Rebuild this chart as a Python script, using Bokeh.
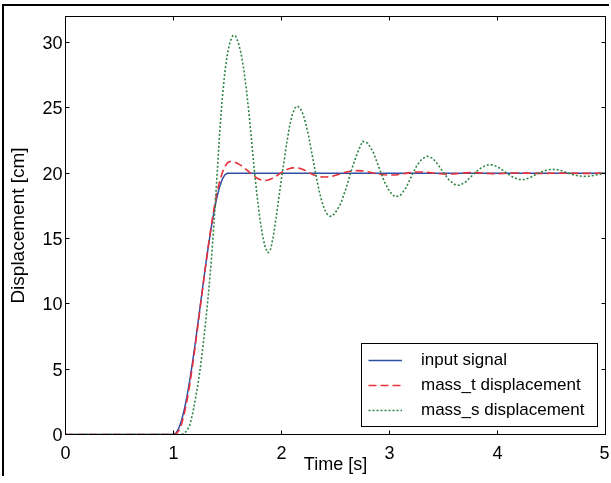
from bokeh.plotting import figure
from bokeh.models import LinearAxis, Range1d, FixedTicker, Legend, LegendItem
from bokeh.embed import file_html
from bokeh.resources import INLINE

# ---- data ----
x_ticks = [0, 1, 2, 3, 4, 5]
y_ticks = [0, 5, 10, 15, 20, 25, 30]

t_input = [0.0, 1.0, 1.025, 1.05, 1.075, 1.1, 1.125, 1.15, 1.175, 1.2, 1.225, 1.25,
           1.275, 1.3, 1.325, 1.35, 1.375, 1.4, 1.425, 1.45, 1.475, 1.5, 5.0]
input_signal = [0.0, 0.0, 0.12, 0.49, 1.09, 1.91, 2.93, 4.12, 5.46, 6.91, 8.44, 10.0,
                11.56, 13.09, 14.54, 15.88, 17.07, 18.09, 18.91, 19.51, 19.88, 20.0, 20.0]

t_mass = [0.0,
          1.0, 1.025, 1.05, 1.075, 1.1, 1.125, 1.15, 1.175, 1.2, 1.225, 1.25, 1.275, 1.3,
          1.325, 1.35, 1.375, 1.4, 1.425, 1.45, 1.475, 1.5,
          1.525, 1.55, 1.575, 1.6, 1.625, 1.65, 1.675, 1.7, 1.725, 1.75, 1.775, 1.8,
          1.825, 1.85, 1.875, 1.9, 1.925, 1.95, 1.975, 2.0,
          2.025, 2.05, 2.075, 2.1, 2.125, 2.15, 2.175, 2.2, 2.225, 2.25, 2.275, 2.3,
          2.325, 2.35, 2.375, 2.4, 2.425, 2.45, 2.475, 2.5,
          2.55, 2.6, 2.65, 2.7, 2.75, 2.8, 2.85, 2.9, 2.95, 3.0,
          3.05, 3.1, 3.15, 3.2, 3.25, 3.3, 3.35, 3.4, 3.45, 3.5,
          3.55, 3.6, 3.65, 3.7, 3.75, 3.8, 3.85, 3.9, 3.95, 4.0,
          4.05, 4.1, 4.15, 4.2, 4.25, 4.3, 4.35, 4.4, 4.45, 4.5,
          4.55, 4.6, 4.65, 4.7, 4.75, 4.8, 4.85, 4.9, 4.95, 5.0]

mass_t = [0.0,
          0.0, 0.05, 0.3, 0.8, 1.6, 2.6, 3.8, 5.2, 6.7, 8.3, 9.9, 11.5, 13.1,
          14.6, 16.0, 17.3, 18.4, 19.3, 20.0, 20.5, 20.8,
          20.9, 20.88, 20.82, 20.72, 20.6, 20.45, 20.28, 20.1, 19.92, 19.76, 19.62, 19.52,
          19.46, 19.45, 19.48, 19.55, 19.65, 19.78, 19.92, 20.06,
          20.18, 20.28, 20.36, 20.41, 20.43, 20.41, 20.36, 20.28, 20.18, 20.07, 19.96, 19.87,
          19.8, 19.75, 19.72, 19.71, 19.72, 19.74, 19.78, 19.84,
          19.97, 20.09, 20.17, 20.2, 20.18, 20.11, 20.02, 19.94, 19.88, 19.86,
          19.87, 19.92, 19.99, 20.06, 20.1, 20.1, 20.07, 20.02, 19.97, 19.94,
          19.93, 19.95, 19.99, 20.03, 20.05, 20.05, 20.02, 19.99, 19.97, 19.97,
          19.98, 20.0, 20.02, 20.02, 20.01, 20.0, 19.99, 19.99, 19.99, 20.0,
          20.0, 20.01, 20.01, 20.0, 20.0, 19.99, 19.99, 20.0, 20.0, 20.0]

mass_s = [0.0,
          0.0, 0.0, 0.0, 0.02, 0.1, 0.3, 0.7, 1.5, 2.6, 3.8, 5.2, 6.9, 8.8,
          10.9, 13.3, 16.2, 19.4, 22.8, 25.6, 27.7, 29.2,
          30.1, 30.55, 30.5, 30.0, 29.2, 28.0, 26.4, 24.5, 22.3, 20.1, 18.2, 16.5,
          15.2, 14.3, 13.9, 14.2, 15.2, 16.6, 18.1, 19.6,
          21.0, 22.4, 23.6, 24.5, 25.0, 25.15, 24.95, 24.5, 23.8, 22.9, 21.8, 20.7,
          19.6, 18.6, 17.8, 17.2, 16.85, 16.7, 16.75, 17.0,
          17.7, 18.9, 20.3, 21.5, 22.45, 22.3, 21.6, 20.5, 19.4, 18.6,
          18.2, 18.3, 18.85, 19.7, 20.55, 21.1, 21.3, 21.15, 20.65, 20.05,
          19.5, 19.15, 19.08, 19.3, 19.7, 20.1, 20.42, 20.62, 20.65, 20.5,
          20.22, 19.92, 19.67, 19.52, 19.52, 19.66, 19.88, 20.08, 20.23, 20.3,
          20.28, 20.17, 20.02, 19.89, 19.8, 19.76, 19.78, 19.85, 19.93, 20.0]

labels = ["input signal", "mass_t displacement", "mass_s displacement"]

FONT = "Liberation Sans"

p = figure(frame_width=540, frame_height=418,
           x_range=Range1d(0, 5), y_range=Range1d(0, 32),
           output_backend="svg", toolbar_location=None,
           min_border_left=61, min_border_top=10, min_border_right=4, min_border_bottom=40,
           styles={"position": "fixed", "left": "2px", "top": "4px",
                   "border-left": "2px solid black", "border-top": "2px solid black"})
p.xgrid.visible = False
p.ygrid.visible = False
p.outline_line_color = "black"
p.outline_line_width = 1
p.background_fill_color = "white"
p.border_fill_color = "white"


def style_axis(ax, ticks):
    ax.ticker = FixedTicker(ticks=ticks)
    ax.major_tick_in = 4
    ax.major_tick_out = 0
    ax.minor_tick_in = 0
    ax.minor_tick_out = 0
    ax.axis_line_color = "black"
    ax.major_tick_line_color = "black"
    ax.major_label_text_font = FONT
    ax.axis_label_text_font = FONT
    ax.axis_label_text_font_style = "normal"
    ax.axis_label_text_color = "black"
    ax.major_label_text_color = "black"
    ax.major_label_text_font_size = "18px"


xa = p.xaxis[0]
style_axis(xa, x_ticks)
xa.axis_label = "Time [s]"
xa.axis_label_text_font_size = "18px"
xa.major_label_standoff = 11
xa.axis_label_standoff = -8

ya = p.yaxis[0]
style_axis(ya, y_ticks)
ya.axis_label = "Displacement [cm]"
ya.axis_label_text_font_size = "19px"
ya.major_label_standoff = 3
ya.axis_label_standoff = 11

# mirrored tick marks on the top and right edges (no labels)
top = LinearAxis(major_label_overrides={t: "" for t in x_ticks})
style_axis(top, x_ticks)
top.major_label_standoff = 0
top.major_label_text_font_size = "1px"
p.add_layout(top, "above")
right = LinearAxis(major_label_overrides={t: "" for t in y_ticks})
style_axis(right, y_ticks)
right.major_label_standoff = 0
right.major_label_text_font_size = "1px"
p.add_layout(right, "right")

r1 = p.line(t_input, input_signal, line_color="#3050a6", line_width=1.5)
r2 = p.line(t_mass, mass_t, line_color="#e6303a", line_width=1.6, line_dash="8 4")
r3 = p.line(t_mass, mass_s, line_color="#2f8545", line_width=1.6, line_dash="2 2")

legend = Legend(items=[LegendItem(label=labels[0], renderers=[r1]),
                       LegendItem(label=labels[1], renderers=[r2]),
                       LegendItem(label=labels[2], renderers=[r3])],
                location="bottom_right", margin=7, padding=6, spacing=5,
                glyph_width=34, glyph_height=20, label_standoff=19,
                label_width=170, label_height=20,
                label_text_font=FONT, label_text_font_size="17px",
                label_text_color="black",
                border_line_color="black", border_line_width=1, border_line_alpha=1,
                background_fill_color="white", background_fill_alpha=1)
p.add_layout(legend)

open("out.html", "w").write(file_html(p, INLINE))
